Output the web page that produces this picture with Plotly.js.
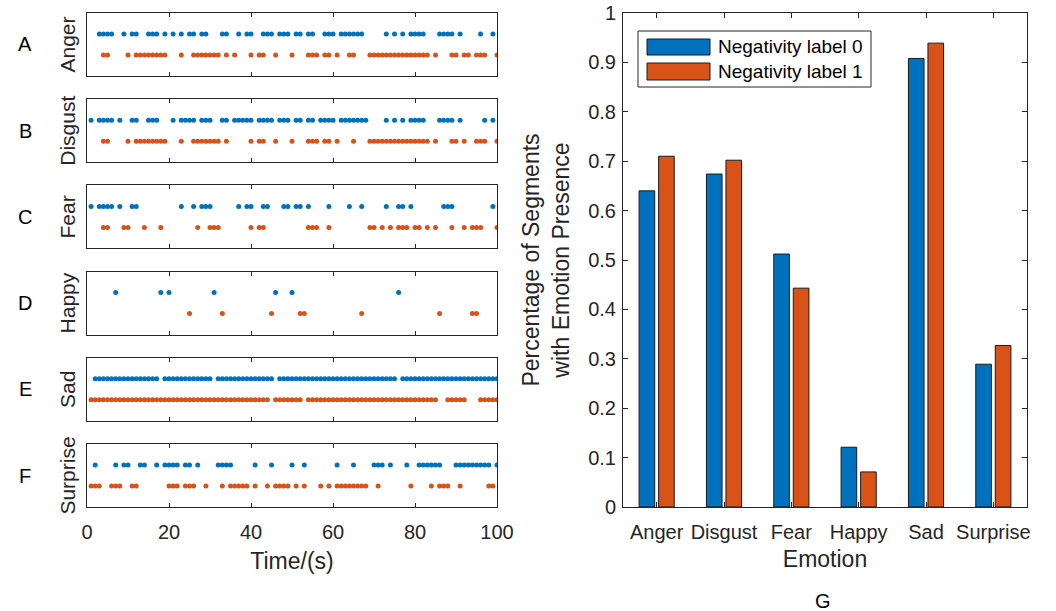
<!DOCTYPE html>
<html>
<head>
<meta charset="utf-8">
<script src="https://cdn.plot.ly/plotly-3.0.1.min.js"></script>
<style>html,body{margin:0;padding:0;background:#fff;}#chart{width:1056px;height:611px;}</style>
</head>
<body>
<div id="chart"></div>
<script>
// ---------- data ----------
const emotions = ['Anger','Disgust','Fear','Happy','Sad','Surprise'];
const panelLetters = ['A','B','C','D','E','F'];

const angerL0 = [3,4,5,6,9,11,12,15,16,17,19,21,23,25,26,28,29,33,34,37,39,40,43,44,45,47,48,49,51,52,54,55,58,59,60,62,63,64,65,66,67,73,75,77,79,80,81,82,86,87,88,89,91,96,99];
const angerL1 = [4,5,10,12,13,14,15,16,17,18,19,23,26,27,28,29,30,31,32,34,36,40,42,43,46,50,54,55,56,58,59,61,64,65,69,70,71,72,73,74,75,76,77,78,79,80,81,82,83,85,89,90,92,93,95,96,97,100];

const disgustL0 = [1,3,4,5,6,8,11,12,15,16,17,21,23,24,25,26,28,29,30,33,34,36,37,38,39,40,42,43,44,45,47,48,49,51,52,54,55,57,58,59,60,62,63,64,65,66,67,68,73,75,77,79,80,81,82,86,87,88,89,91,97,99];
const disgustL1 = [4,5,10,12,13,14,15,16,17,18,19,23,26,27,28,29,30,31,32,34,40,42,43,46,50,54,55,56,58,59,61,65,69,70,71,72,73,74,75,76,77,78,79,80,81,82,83,85,89,90,92,95,96,97,100];

const fearL0 = [1,3,4,5,6,8,11,12,23,26,28,29,30,37,39,40,43,44,48,49,51,52,54,59,64,67,73,76,77,79,87,88,89,99];
const fearL1 = [4,5,9,10,14,18,27,30,31,32,40,42,43,54,55,56,59,69,70,72,74,76,77,78,80,81,83,85,89,92,94,95,96,100];

const happyL0 = [7,18,20,31,46,50,76];
const happyL1 = [25,33,45,52,53,67,86,94,95];

const sadL0 = [2,3,4,5,6,7,8,9,10,11,12,13,14,15,16,17,19,20,21,22,23,24,25,26,27,28,29,30,32,33,34,35,36,37,38,39,40,41,42,43,44,45,47,48,49,50,51,52,53,54,55,56,57,58,59,60,61,62,63,64,65,66,67,68,69,70,71,72,73,74,75,77,78,79,80,81,82,83,84,85,86,87,88,89,90,91,92,93,94,95,96,97,98,99,100];
const sadL1 = [1,2,3,4,5,6,7,8,9,10,11,12,13,14,15,16,17,18,19,20,21,22,23,24,25,26,27,28,29,30,31,32,33,34,35,36,37,38,39,40,41,42,43,44,46,47,48,49,50,51,52,54,55,56,57,58,59,60,61,62,63,64,65,66,67,68,69,70,71,72,73,74,75,76,77,78,79,80,81,82,83,84,85,88,89,90,91,92,96,97,98,99,100];

const surpriseL0 = [2,7,9,10,13,14,17,19,20,21,22,24,25,27,32,33,34,35,41,45,50,53,61,65,70,71,72,74,78,81,82,83,84,85,86,90,91,92,93,94,95,96,97,98,100];
const surpriseL1 = [1,2,3,6,7,8,11,12,20,21,22,24,25,26,29,33,35,36,37,38,39,41,44,46,47,48,49,51,53,57,59,61,62,63,64,65,66,67,68,71,79,84,86,87,88,91,98,99];

const label0Times = [angerL0, disgustL0, fearL0, happyL0, sadL0, surpriseL0];
const label1Times = [angerL1, disgustL1, fearL1, happyL1, sadL1, surpriseL1];

const barCategories = ['Anger','Disgust','Fear','Happy','Sad','Surprise'];
const presenceLabel0 = [0.640, 0.674, 0.512, 0.121, 0.908, 0.289];
const presenceLabel1 = [0.710, 0.702, 0.443, 0.071, 0.939, 0.327];
const seriesNames = ['Negativity label 0', 'Negativity label 1'];
const timeTicks = [0, 20, 40, 60, 80, 100];

// ---------- styling / layout ----------
const W = 1056, H = 611;
const fx = p => p / W;
const fy = p => 1 - p / H;
const BLUE = '#0072BD', ORANGE = '#D95319', AX = '#262626';
const FONT = 'Liberation Sans, Arial, Helvetica, sans-serif';
const TICK = 20, LABEL = 23;

const leftX0 = 87, leftX1 = 497;
const panelTop0 = 13, panelStep = 86.2, panelH = 63;

const traces = [];
const layout = {
  width: W, height: H,
  margin: {l: 0, r: 0, t: 0, b: 0},
  paper_bgcolor: '#fff', plot_bgcolor: '#fff',
  showlegend: false,
  font: {family: FONT, size: TICK, color: AX},
  annotations: [], shapes: []
};

emotions.forEach((emo, i) => {
  const n = i + 1;
  const xa = 'x' + n, ya = 'y' + n;
  const top = panelTop0 + panelStep * i, bot = top + panelH;
  traces.push({
    type: 'scatter', mode: 'markers', xaxis: xa, yaxis: ya,
    x: label0Times[i], y: label0Times[i].map(() => 2),
    marker: {color: BLUE, size: 5}, name: seriesNames[0], hoverinfo: 'x'
  });
  traces.push({
    type: 'scatter', mode: 'markers', xaxis: xa, yaxis: ya,
    x: label1Times[i], y: label1Times[i].map(() => 1),
    marker: {color: ORANGE, size: 5}, name: seriesNames[1], hoverinfo: 'x'
  });
  const isBottom = i === emotions.length - 1;
  layout['xaxis' + n] = {
    domain: [fx(leftX0), fx(leftX1)], anchor: ya, range: [0, 100],
    tickvals: timeTicks, ticktext: timeTicks.map(String),
    showticklabels: isBottom, ticks: 'inside', ticklen: 4, tickcolor: AX,
    showline: true, linecolor: AX, linewidth: 1, mirror: 'ticks',
    showgrid: false, zeroline: false, fixedrange: true,
    tickfont: {family: FONT, size: TICK, color: AX}, ticklabelstandoff: 7,
    title: isBottom ? {text: 'Time/(s)', font: {family: FONT, size: LABEL, color: AX}, standoff: 10} : undefined
  };
  layout['yaxis' + n] = {
    domain: [fy(bot), fy(top)], anchor: xa, range: [0, 3],
    showticklabels: false, ticks: '', showline: true, linecolor: AX, linewidth: 1, mirror: true,
    showgrid: false, zeroline: false, fixedrange: true,
    title: {text: emo, font: {family: FONT, size: 21, color: AX}, standoff: 4}
  };
  layout.annotations.push({
    xref: 'paper', yref: 'paper', x: fx(25), y: fy((top + bot) / 2),
    text: panelLetters[i], showarrow: false, xanchor: 'center', yanchor: 'middle',
    font: {family: FONT, size: 20, color: '#000'}
  });
});

// bar chart
traces.push({
  type: 'bar', xaxis: 'x7', yaxis: 'y7', x: barCategories, y: presenceLabel0, name: seriesNames[0],
  marker: {color: BLUE, line: {color: '#1a1a1a', width: 1}}
});
traces.push({
  type: 'bar', xaxis: 'x7', yaxis: 'y7', x: barCategories, y: presenceLabel1, name: seriesNames[1],
  marker: {color: ORANGE, line: {color: '#1a1a1a', width: 1}}
});
layout.barmode = 'group';
layout.bargap = 0.42;
layout.bargroupgap = 0.2;

const barL = 623, barR = 1027, barT = 13, barB = 507;
layout.xaxis7 = {
  domain: [fx(barL), fx(barR)], anchor: 'y7', type: 'category', range: [-0.5, 5.5],
  ticks: 'inside', ticklen: 5, tickcolor: AX, showline: true, linecolor: AX, linewidth: 1, mirror: 'ticks',
  showgrid: false, zeroline: false, fixedrange: true,
  tickfont: {family: FONT, size: TICK, color: AX}, ticklabelstandoff: 7,
  title: {text: 'Emotion', font: {family: FONT, size: LABEL, color: AX}, standoff: 8}
};
layout.yaxis7 = {
  domain: [fy(barB), fy(barT)], anchor: 'x7', range: [0, 1], dtick: 0.1, tick0: 0,
  ticks: 'inside', ticklen: 5, tickcolor: AX, showline: true, linecolor: AX, linewidth: 1, mirror: 'ticks',
  showgrid: false, zeroline: false, fixedrange: true,
  tickfont: {family: FONT, size: TICK, color: AX}, ticklabelstandoff: 2,
  title: {text: 'Percentage of Segments<br>with Emotion Presence', font: {family: FONT, size: LABEL, color: AX}, standoff: 12}
};

// manual legend (box + swatches + labels)
const lg = {x0: 638, x1: 871, y0: 31, y1: 87};
layout.shapes.push({type: 'rect', xref: 'paper', yref: 'paper', x0: fx(lg.x0), x1: fx(lg.x1), y0: fy(lg.y1), y1: fy(lg.y0),
  line: {color: AX, width: 1}, fillcolor: '#fff', layer: 'above'});
const sw = [{c: BLUE, t: 39, b: 55}, {c: ORANGE, t: 63, b: 80}];
sw.forEach((s, k) => {
  layout.shapes.push({type: 'rect', xref: 'paper', yref: 'paper', x0: fx(647), x1: fx(710), y0: fy(s.b), y1: fy(s.t),
    line: {color: '#1a1a1a', width: 1}, fillcolor: s.c, layer: 'above'});
  layout.annotations.push({xref: 'paper', yref: 'paper', x: fx(716), y: fy((s.t + s.b) / 2), text: seriesNames[k],
    showarrow: false, xanchor: 'left', yanchor: 'middle', font: {family: FONT, size: 19, color: '#000'}});
});

// panel G label
layout.annotations.push({xref: 'paper', yref: 'paper', x: fx(823), y: fy(601), text: 'G', showarrow: false,
  xanchor: 'center', yanchor: 'middle', font: {family: FONT, size: 20, color: '#000'}});

Plotly.newPlot('chart', traces, layout, {displayModeBar: false, staticPlot: true});
</script>
</body>
</html>
